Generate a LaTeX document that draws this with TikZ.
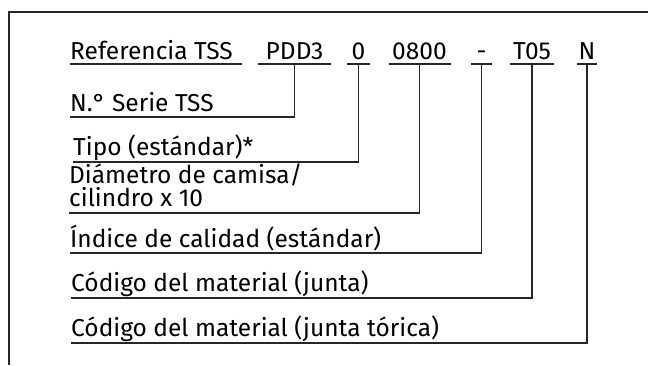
\documentclass[tikz,border=0pt]{standalone}
\usepackage{fontspec}
\setmainfont{Fira Sans}
\begin{document}
\begin{tikzpicture}[x=1pt,y=-1pt,
  ln/.style={line width=1.3pt, draw=black!85},
  lbl/.style={inner sep=0pt, anchor=base west, font=\fontsize{24.5}{26}\selectfont},
  code/.style={inner sep=0pt, anchor=base, font=\fontsize{24.5}{26}\selectfont}]
\useasboundingbox (0,0) rectangle (648,365);
% frame
\draw[ln] (648,12) -- (9,12) -- (9,365);
% header
\node[lbl] (ref) at (70,59) {Referencia TSS};
\draw[ln] (70,64) -- (242,64);
\node[code] (c1) at (294.5,59) {PDD3};
\draw[ln] (258,64) -- (331,64);
\coordinate (c1u) at (294.5,64);
\node[code] (c2) at (358.5,59) {0};
\draw[ln] (347,64) -- (370,64);
\coordinate (c2u) at (358.5,64);
\node[code] (c3) at (419.5,59) {0800};
\draw[ln] (388.5,64) -- (450.5,64);
\coordinate (c3u) at (419.5,64);
\node[code] (c4) at (481.5,59) {-};
\draw[ln] (471,64) -- (492,64);
\coordinate (c4u) at (481.5,64);
\node[code] (c5) at (532,59) {T05};
\draw[ln] (510,64) -- (554,64);
\coordinate (c5u) at (532,64);
\node[code] (c6) at (587,59) {N};
\draw[ln] (577,64) -- (597,64);
\coordinate (c6u) at (587,64);
% rows
\node[lbl] (r1) at (70,111) {N.° Serie TSS};
\coordinate (r1u) at (70,117);
\node[lbl] (r2) at (73,155) {Tipo (estándar)*};
\coordinate (r2u) at (73,162);
\node[lbl] (r3a) at (69,183) {Diámetro de camisa/};
\node[lbl] (r3) at (69,206) {cilindro x 10};
\coordinate (r3u) at (69,213);
\node[lbl] (r4) at (70,247) {Índice de calidad (estándar)};
\coordinate (r4u) at (70,253);
\node[lbl] (r5) at (71,291) {Código del material (junta)};
\coordinate (r5u) at (71,298);
\node[lbl] (r6) at (71,336) {Código del material (junta tórica)};
\coordinate (r6u) at (71,343);
% connectors
\draw[ln] (c1u) |- (r1u);
\draw[ln] (c2u) |- (r2u);
\draw[ln] (c3u) |- (r3u);
\draw[ln] (c4u) |- (r4u);
\draw[ln] (c5u) |- (r5u);
\draw[ln] (c6u) |- (r6u);
\end{tikzpicture}
\end{document}
